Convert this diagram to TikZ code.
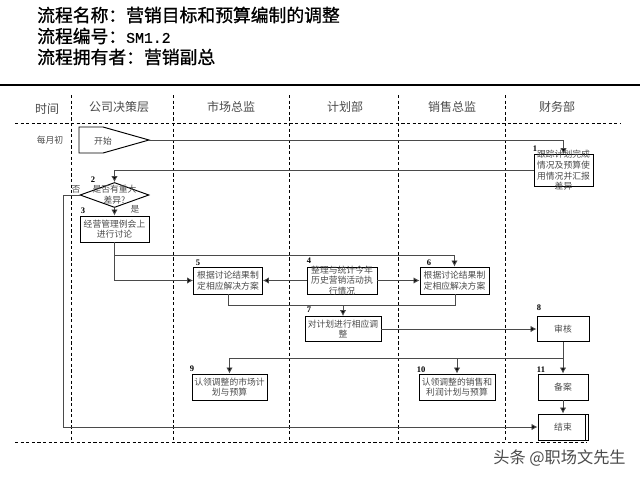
\documentclass[tikz,border=0pt]{standalone}
\usepackage{fontspec}
\setmainfont{Noto Sans CJK SC}
\newfontfamily\serifnum{Liberation Serif}
\newfontfamily\titlefont[FakeBold=1]{Noto Sans CJK SC}
\newfontfamily\titlemono[FakeBold=0.6]{Liberation Mono}
\usetikzlibrary{arrows.meta,shapes.geometric}
\definecolor{inkgray}{HTML}{4A4A4A}
\tikzset{
  box/.style={draw=black,line width=0.95pt,inner sep=0pt,align=center,text=inkgray,font=\fontsize{8.8}{10.7}\selectfont},
  boxtext/.style={inner sep=0pt,align=center,text=inkgray,font=\fontsize{8.8}{10.7}\selectfont},
  num/.style={inner sep=0pt,font=\serifnum\bfseries\fontsize{8.5}{8.5}\selectfont},
  head/.style={inner sep=0pt,text=inkgray,font=\fontsize{12}{12}\selectfont},
  titleline/.style={anchor=west,inner sep=0pt,font=\titlefont\fontsize{17.8}{18}\selectfont},
  lane/.style={line width=0.9pt,dash pattern=on 3.2pt off 2.4pt},
  link/.style={draw=inkgray,line width=0.9pt},
  arrow/.style={link,-{Latex[length=6pt,width=6.5pt,fill=black]}}
}
\begin{document}
\begin{tikzpicture}[x=1pt,y=-1pt]
      \useasboundingbox (0,0) rectangle (640,480);
      \draw
        (37,15) node[titleline] (name){流程名称：营销目标和预算编制的调整}
        (37,36) node[titleline] (code){流程编号：{\titlemono\fontsize{14.8}{18}\selectfont SM1.2}}
        (37,57) node[titleline] (owner){流程拥有者：营销副总};
      % swimlanes
      \draw[line width=1.1pt] (0,85) -- (640,85);
      \draw[lane] (15,123) -- (620,123);
      \draw[lane] (15,442) -- (587,442);
      \draw[lane] (71,95) -- (71,442);
      \draw[lane] (173,95) -- (173,442);
      \draw[lane] (289,95) -- (289,442);
      \draw[lane] (398,95) -- (398,442);
      \draw[lane] (505,95) -- (505,442);
      \draw
        (47,109) node[head] (time){时间}
        (119,107) node[head] (board){公司决策层}
        (231,107) node[head] (market){市场总监}
        (345,107) node[head] (plan){计划部}
        (452,107) node[head] (sales){销售总监}
        (557,107) node[head] (finance){财务部}
        (50,140) node[boxtext] (month){每月初};
      % shapes
      \coordinate (tip) at (149,140);
      \draw[line width=0.95pt] (79,127) -- (103,127) -- (tip) -- (103,153) -- (79,153) -- cycle;
      \draw
        (103,141) node[boxtext] (start){开始}
        (563.5,170.5) node[box,minimum width=59,minimum height=32] (1){}
        (114.5,195) node[draw=black,line width=0.95pt,diamond,inner sep=0pt,minimum width=69,minimum height=25] (2){}
        (114.5,229) node[box,minimum width=69,minimum height=26] (3){经营管理例会上\\进行讨论}
        (342,280.5) node[box,minimum width=70,minimum height=27] (4){}
        (228,280.5) node[box,minimum width=69,minimum height=27] (5){根据讨论结果制\\定相应解决方案}
        (454.5,280.5) node[box,minimum width=69,minimum height=27] (6){根据讨论结果制\\定相应解决方案}
        (343,329) node[box,minimum width=76,minimum height=25] (7){对计划进行相应调\\整}
        (563,329) node[box,minimum width=52,minimum height=25] (8){审核}
        (229.5,387) node[box,minimum width=75,minimum height=26] (9){认领调整的市场计\\划与预算}
        (457,387) node[box,minimum width=76,minimum height=26] (10){认领调整的销售和\\利润计划与预算}
        (563,387) node[box,minimum width=50,minimum height=26] (11){备案}
        (563,427) node[box,minimum width=50,minimum height=26] (end){结束};
      \draw[line width=0.95pt] (585,414) -- (585,440);
      \draw
        (563.5,170.5) node[boxtext] (1t){跟踪计划完成\\情况及预算使\\用情况并汇报\\差异}
        (114.5,195) node[boxtext] (2t){是否有重大\\差异?}
        (342,280.5) node[boxtext] (4t){整理与统计今年\\历史营销活动执\\行情况};
      \draw
        (535,149) node[num] (n1){1}
        (93,180) node[num] (n2){2}
        (83,211) node[num] (n3){3}
        (309,261) node[num] (n4){4}
        (198,263) node[num] (n5){5}
        (429,263) node[num] (n6){6}
        (309,310) node[num] (n7){7}
        (539,308) node[num] (n8){8}
        (192,369) node[num] (n9){9}
        (421,370) node[num] (n10){10}
        (541,370) node[num] (n11){11}
        (76,189) node[boxtext] (no){否}
        (135,209) node[boxtext] (yes){是}
        (559.5,458) node[inner sep=0pt,text=inkgray,font=\fontsize{16.2}{16}\selectfont] (mark){头条 @职场文先生};
      % connectors
      \coordinate (left) at (63,195);
      \coordinate (bottom) at (63,427);
      \coordinate (fork) at (114.5,255);
      \coordinate (split) at (563,358);
      \begin{scope}[every path/.style={arrow}]
        \draw (tip) -| (1.north);
        \draw (1.west |- 0,170) -| (2.north);
        \draw (2.south) to (3.north);
        \draw (3.south) |- (5.west);
        \draw (fork) -| (6.north);
        \draw (4.west) to (5.east);
        \draw (4.east) to (6.west);
        \draw (343,305) to (7.north);
        \draw (7.east) to (8.west);
        \draw (8.south) to (11.north);
        \draw (split) -| (9.north);
        \draw (457,358) to (10.north);
        \draw (11.south) to (end.north);
        \draw (bottom) to (end.west);
      \end{scope}
      \draw[link] (5.south) |- (455,305) -- (455,294);
      \draw[link] (2.west) -- (left) -- (bottom);
    \end{tikzpicture}
\end{document}
